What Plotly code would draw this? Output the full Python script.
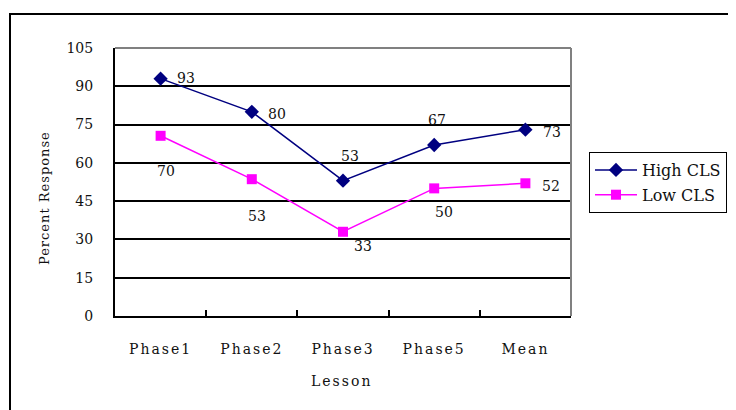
import plotly.graph_objects as go

categories = ["Phase1", "Phase2", "Phase3", "Phase5", "Mean"]
high_cls = [93, 80, 53, 67, 73]
low_cls = [70.6, 53.6, 33, 50, 52]
high_labels = ["93", "80", "53", "67", "73"]
low_labels = ["70", "53", "33", "50", "52"]
y_ticks = [0, 15, 30, 45, 60, 75, 90, 105]

# label offsets (px): (xshift, yshift)
high_off = [(25, 1), (25, -2), (7, 25), (3, 25), (27, -2)]
low_off = [(5, -35), (5, -37), (20, -14), (10, -24), (26, -3)]

FONT = "DejaVu Serif"

# plot area in target pixel frame
L, R, T, B = 115, 571, 48, 316
W, H = R - L, B - T
OFF = 8  # page body margin


def px(xp):
    return (xp - L) / W


def py(yp):
    return (B - yp) / H


fig = go.Figure()
fig.add_trace(go.Scatter(
    x=categories, y=high_cls, mode="lines+markers", name="High CLS",
    line=dict(color="#000080", width=1.5),
    marker=dict(symbol="diamond", size=11, color="#000080"),
    legendgroup="a",
))
fig.add_trace(go.Scatter(
    x=categories, y=low_cls, mode="lines+markers", name="Low CLS",
    line=dict(color="#FF00FF", width=1.5),
    marker=dict(symbol="square", size=10, color="#FF00FF"),
    legendgroup="b",
))

annos = []
for c, v, t, (dx, dy) in zip(categories, high_cls, high_labels, high_off):
    annos.append(dict(x=c, y=v, text=t, showarrow=False, xshift=dx, yshift=dy,
                      xanchor="center", yanchor="middle",
                      font=dict(family=FONT, size=14, color="#111")))
for c, v, t, (dx, dy) in zip(categories, low_cls, low_labels, low_off):
    annos.append(dict(x=c, y=v, text=t, showarrow=False, xshift=dx, yshift=dy,
                      xanchor="center", yanchor="middle",
                      font=dict(family=FONT, size=14, color="#111")))
annos.append(dict(xref="paper", yref="paper", x=px(341), y=py(381),
                  xanchor="center", yanchor="middle",
                  text="Lesson", showarrow=False,
                  font=dict(family=FONT, size=14, color="#111")))
annos.append(dict(xref="paper", yref="paper", x=px(44), y=py(198),
                  xanchor="center", yanchor="middle",
                  text="Percent Response", showarrow=False, textangle=-90,
                  font=dict(family=FONT, size=13, color="#111")))

shapes = [
    dict(type="rect", xref="paper", yref="paper",
         x0=px(10), y0=py(425), x1=px(750), y1=py(14),
         line=dict(color="black", width=2)),
    dict(type="line", xref="paper", yref="paper", x0=0, x1=1, y0=1, y1=1,
         line=dict(color="#808080", width=2)),
    dict(type="line", xref="paper", yref="paper", x0=1, x1=1, y0=0, y1=1,
         line=dict(color="#808080", width=2)),
]

fig.update_layout(
    width=736, height=410,
    margin=dict(l=L - OFF, r=736 - (R - OFF), t=T - OFF, b=410 - (B - OFF), autoexpand=False),
    paper_bgcolor="white", plot_bgcolor="white",
    font=dict(family=FONT, size=14, color="#111"),
    showlegend=True,
    legend=dict(x=px(589), y=py(152), xanchor="left", yanchor="top",
                bordercolor="black", borderwidth=1, bgcolor="white",
                font=dict(family=FONT, size=16, color="#111"),
                traceorder="grouped", tracegroupgap=1, itemwidth=42),
    xaxis=dict(type="category", range=[-0.5, 4.5], showline=True, linecolor="black",
               linewidth=2, ticks="inside", tickson="boundaries", ticklen=6,
               tickcolor="black", tickwidth=2, showgrid=False,
               ticklabelstandoff=19, tickfont=dict(family=FONT, size=14, color="#111")),
    yaxis=dict(range=[0, 105], tickvals=y_ticks, showline=True, linecolor="black",
               linewidth=2, showgrid=True, gridcolor="black", gridwidth=1.5,
               ticks="", zeroline=False, ticklabelstandoff=17,
               tickfont=dict(family=FONT, size=14, color="#111")),
    annotations=annos,
    shapes=shapes,
)

post = """
var st = document.createElement('style');
st.textContent = '.xtick text{letter-spacing:2px;}';
document.head.appendChild(st);
document.querySelectorAll('.annotation-text').forEach(function(e){
  if (e.textContent === 'Lesson') e.style.letterSpacing = '2px';
  if (e.textContent === 'Percent Response') e.style.letterSpacing = '1px';
});
"""

fig.write_html("out.html", post_script=post)
